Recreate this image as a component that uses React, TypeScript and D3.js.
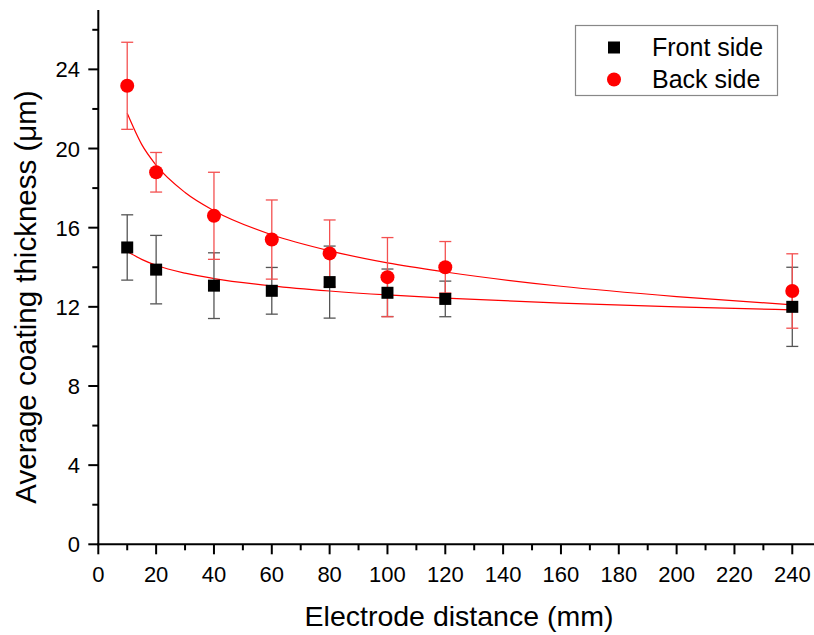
import React from "react";
import * as d3 from "d3";

const distances = [10, 20, 40, 60, 80, 100, 120, 240];
const frontMean = [15.0, 13.88, 13.07, 12.81, 13.25, 12.71, 12.4, 12.0];
const frontErr = [1.65, 1.73, 1.66, 1.18, 1.82, 1.2, 0.9, 2.0];
const backMean = [23.17, 18.8, 16.6, 15.4, 14.7, 13.5, 14.0, 12.8];
const backErr = [2.2, 1.0, 2.2, 2.0, 1.69, 2.0, 1.3, 1.88];

// fit curves
const fitX = [10, 15, 20, 30, 40, 60, 80, 100, 120, 160, 200, 240];
const frontFit = [14.8, 14.4, 14.1, 13.7, 13.43, 13.06, 12.8, 12.6, 12.44, 12.19, 12.0, 11.85];
const backFit = [21.78, 20.21, 19.16, 17.78, 16.86, 15.64, 14.83, 14.22, 13.76, 13.04, 12.52, 12.1];

const xMajor = [0, 20, 40, 60, 80, 100, 120, 140, 160, 180, 200, 220, 240];
const xMinor = [10, 30, 50, 70, 90, 110, 130, 150, 170, 190, 210, 230];
const yMajor = [0, 4, 8, 12, 16, 20, 24];
const yMinor = [2, 6, 10, 14, 18, 22, 26];

const FONT = "'Liberation Sans', Arial, sans-serif";

export default function App() {
  const W = 814, H = 635;
  const x = d3.scaleLinear().domain([0, 250]).range([98.3, 821.2]);
  const y = d3.scaleLinear().domain([0, 27]).range([544.3, 10]);
  const line = d3
    .line<[number, number]>()
    .x((d) => x(d[0]))
    .y((d) => y(d[1]))
    .curve(d3.curveMonotoneX);
  const frontLine = line(fitX.map((v, i) => [v, frontFit[i]]))!;
  const backLine = line(fitX.map((v, i) => [v, backFit[i]]))!;
  const x0 = x(0), y0 = y(0);
  const cap = 6;

  const errBars = (means: number[], errs: number[], color: string, key: string) =>
    distances.map((d, i) => {
      const cx = x(d);
      const yt = y(means[i] + errs[i]);
      const yb = y(means[i] - errs[i]);
      return (
        <g key={key + i} stroke={color} strokeWidth={1.3}>
          <line x1={cx} x2={cx} y1={yt} y2={yb} />
          <line x1={cx - cap} x2={cx + cap} y1={yt} y2={yt} />
          <line x1={cx - cap} x2={cx + cap} y1={yb} y2={yb} />
        </g>
      );
    });

  return (
    <svg
      width={W}
      height={H}
      style={{ position: "absolute", left: 0, top: 0, background: "#fff" }}
    >
      <rect width={W} height={H} fill="#fff" />
      {/* fits */}
      <path d={backLine} fill="none" stroke="#f00" strokeWidth={1.2} />
      <path d={frontLine} fill="none" stroke="#f00" strokeWidth={1.2} />
      {/* error bars */}
      {errBars(frontMean, frontErr, "#555", "fe")}
      {errBars(backMean, backErr, "#f45050", "be")}
      {/* markers */}
      {distances.map((d, i) => (
        <circle key={"bc" + i} cx={x(d)} cy={y(backMean[i])} r={7} fill="#f00" />
      ))}
      {distances.map((d, i) => (
        <rect
          key={"fs" + i}
          x={x(d) - 6}
          y={y(frontMean[i]) - 6}
          width={12}
          height={12}
          fill="#000"
        />
      ))}
      {/* axes */}
      <g stroke="#000" strokeWidth={2}>
        <line x1={x0} x2={x0} y1={10} y2={y0 + 1} />
        <line x1={x0 - 1} x2={W} y1={y0} y2={y0} />
        {xMajor.map((v) => (
          <line key={"xM" + v} x1={x(v)} x2={x(v)} y1={y0} y2={y0 + 10} />
        ))}
        {xMinor.map((v) => (
          <line key={"xm" + v} x1={x(v)} x2={x(v)} y1={y0} y2={y0 + 6} />
        ))}
        {yMajor.map((v) => (
          <line key={"yM" + v} x1={x0 - 10} x2={x0} y1={y(v)} y2={y(v)} />
        ))}
        {yMinor.map((v) => (
          <line key={"ym" + v} x1={x0 - 6} x2={x0} y1={y(v)} y2={y(v)} />
        ))}
      </g>
      <g fontFamily={FONT} fontSize={22} fill="#000">
        {xMajor.map((v) => (
          <text key={"xl" + v} x={x(v)} y={582} textAnchor="middle">
            {v}
          </text>
        ))}
        {yMajor.map((v) => (
          <text key={"yl" + v} x={80} y={y(v) + 8} textAnchor="end">
            {v}
          </text>
        ))}
      </g>
      <text
        x={459}
        y={626}
        textAnchor="middle"
        fontFamily={FONT}
        fontSize={28.5}
        fill="#000"
      >
        Electrode distance (mm)
      </text>
      <text
        transform="translate(36,297) rotate(-90)"
        textAnchor="middle"
        fontFamily={FONT}
        fontSize={29.5}
        fill="#000"
      >
        Average coating thickness (μm)
      </text>
      {/* legend */}
      <rect x={575.5} y={25.5} width={202} height={70} fill="#fff" stroke="#888" strokeWidth={1.2} />
      <rect x={608} y={41.5} width={12} height={12} fill="#000" />
      <circle cx={614} cy={79.5} r={7} fill="#f00" />
      <g fontFamily={FONT} fontSize={25} fill="#000">
        <text x={652} y={56}>Front side</text>
        <text x={652} y={88}>Back side</text>
      </g>
    </svg>
  );
}
